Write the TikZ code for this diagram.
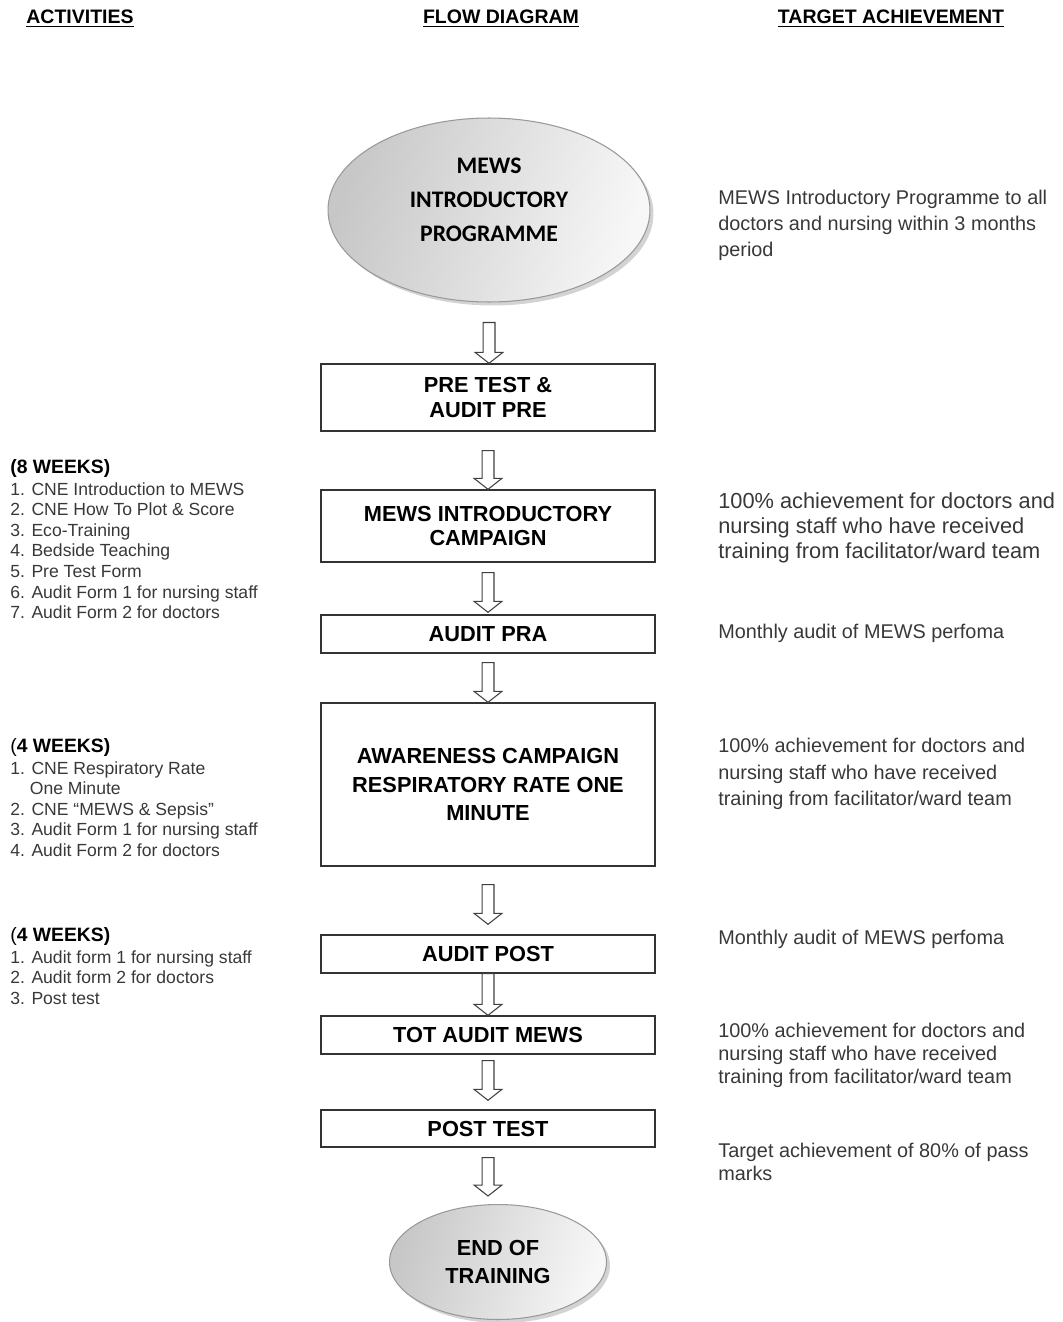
\documentclass[tikz,border=0pt]{standalone}
\usepackage{fontspec}
\setmainfont{Liberation Sans}
\newfontfamily\calibri{Carlito}
\usepackage{tikz}
\usetikzlibrary{positioning,calc,shapes.geometric,shadows}
\definecolor{txtgray}{gray}{0.22}
\tikzset{
    terminal/.style={ellipse, draw=black!40, line width=0.6pt, left color=black!22, right color=black!3, shading angle=75, drop shadow={shadow xshift=2pt, shadow yshift=-2pt, opacity=0.35}, inner sep=0pt}, % 椭圆起止框
    process/.style={rectangle, draw=black!80, line width=0.8pt, minimum width=6.68cm, inner sep=0pt, align=center, font=\bfseries\fontsize{12.4}{14.2}\selectfont},
    flow/.style={draw=black!75, line width=0.6pt, fill=white}, % 空心箭头
    activity/.style={anchor=north west, inner sep=0pt, align=left, text=txtgray, font=\fontsize{10}{11.7}\selectfont},
    target/.style={anchor=north west, inner sep=0pt, align=left, text=txtgray, font=\fontsize{11.3}{14.7}\selectfont},
    heading/.style={inner sep=0pt, font=\bfseries\fontsize{11.1}{13}\selectfont}
}
\newcommand{\flowarrow}[2]{%
  \draw[flow] let \p1=(#1), \p2=(#2) in
    (\x1-3.4pt,\y1) -- (\x1-3.4pt,\y2+6.2pt) -- (\x1-7.9pt,\y2+6.2pt) -- (\x1,\y2)
    -- (\x1+7.9pt,\y2+6.2pt) -- (\x1+3.4pt,\y2+6.2pt) -- (\x1+3.4pt,\y1) -- cycle;}

\begin{document}
\begin{tikzpicture}[x=0.02cm, y=-0.02cm]
	\useasboundingbox (0,0) rectangle (1062,1322);

	\node (h1) [heading] at (80,19) {\underline{ACTIVITIES}};
	\node (h2) [heading] at (501,19) {\underline{FLOW DIAGRAM}};
	\node (h3) [heading] at (891,19) {\underline{TARGET ACHIEVEMENT}};

	\node (s) [terminal, minimum width=6.44cm, minimum height=3.68cm,
		label={[align=center, yshift=5.7pt, font=\calibri\bfseries\fontsize{13.5}{19.3}\selectfont]center:MEWS\\INTRODUCTORY\\PROGRAMME}] at (489,210) {};
	\node (b1) [process, minimum height=1.34cm] at (488,397.5) {PRE TEST \&\\AUDIT PRE};
	\node (b2) [process, minimum height=1.44cm] at (488,526) {MEWS INTRODUCTORY\\CAMPAIGN};
	\node (b3) [process, minimum height=0.76cm] at (488,634) {AUDIT PRA};
	\node (b4) [process, minimum height=3.26cm, font=\bfseries\fontsize{12.4}{16.4}\selectfont] at (488,784.5) {AWARENESS CAMPAIGN\\RESPIRATORY RATE ONE\\MINUTE};
	\node (b5) [process, minimum height=0.76cm] at (488,954) {AUDIT POST};
	\node (b6) [process, minimum height=0.76cm] at (488,1035) {TOT AUDIT MEWS};
	\node (b7) [process, minimum height=0.74cm] at (488,1128.5) {POST TEST};
	\node (e) [terminal, minimum width=4.34cm, minimum height=2.3cm, align=center,
		font=\bfseries\fontsize{12.4}{16.4}\selectfont] at (498,1262) {END OF\\TRAINING};

	\flowarrow{$(s.south)+(0,20)$}{b1.north}
	\flowarrow{$(b1.south)+(0,19)$}{b2.north}
	\flowarrow{$(b2.south)+(0,10)$}{$(b3.north)+(0,-2)$}
	\flowarrow{$(b3.south)+(0,9)$}{b4.north}
	\flowarrow{$(b4.south)+(0,18)$}{$(b5.north)+(0,-10)$}
	\flowarrow{b5.south}{b6.north}
	\flowarrow{$(b6.south)+(0,6)$}{$(b7.north)+(0,-9)$}
	\flowarrow{$(b7.south)+(0,10)$}{$(e.north)+(0,-8)$}

	% activities
	\node (a1) [activity] at (10,459) {{\color{black}\bfseries\fontsize{11}{12}\selectfont(8 WEEKS)}\\[0.8pt]
		1. CNE Introduction to MEWS\\2. CNE How To Plot \& Score\\3. Eco-Training\\4. Bedside Teaching\\
		5. Pre Test Form\\6. Audit Form 1 for nursing staff\\7. Audit Form 2 for doctors};
	\node (a2) [activity] at (10,738) {{\color{black}\fontsize{11}{12}\selectfont(\textbf{4 WEEKS)}}\\[0.8pt]
		1. CNE Respiratory Rate\\\hphantom{1.}\ One Minute\\2. CNE “MEWS \& Sepsis”\\
		3. Audit Form 1 for nursing staff\\4. Audit Form 2 for doctors};
	\node (a3) [activity] at (10,927) {{\color{black}\fontsize{11}{12}\selectfont(\textbf{4 WEEKS)}}\\[0.8pt]
		1. Audit form 1 for nursing staff\\2. Audit form 2 for doctors\\3. Post test};

	% targets
	\node (t1) [target] at (718,190) {MEWS Introductory Programme to all\\doctors and nursing within 3 months\\period};
	\node (t2) [target, font=\fontsize{12.4}{14.2}\selectfont] at (718,492) {100\% achievement for doctors and\\nursing staff who have received\\training from facilitator/ward team};
	\node (t3) [target] at (718,624) {Monthly audit of MEWS perfoma};
	\node (t4) [target, font=\fontsize{11.3}{15}\selectfont] at (718,738) {100\% achievement for doctors and\\nursing staff who have received\\training from facilitator/ward team};
	\node (t5) [target] at (718,930) {Monthly audit of MEWS perfoma};
	\node (t6) [target, font=\fontsize{11.3}{13}\selectfont] at (718,1023) {100\% achievement for doctors and\\nursing staff who have received\\training from facilitator/ward team};
	\node (t7) [target, font=\fontsize{11.3}{13}\selectfont] at (718,1143) {Target achievement of 80\% of pass\\marks};
\end{tikzpicture}
\end{document}
